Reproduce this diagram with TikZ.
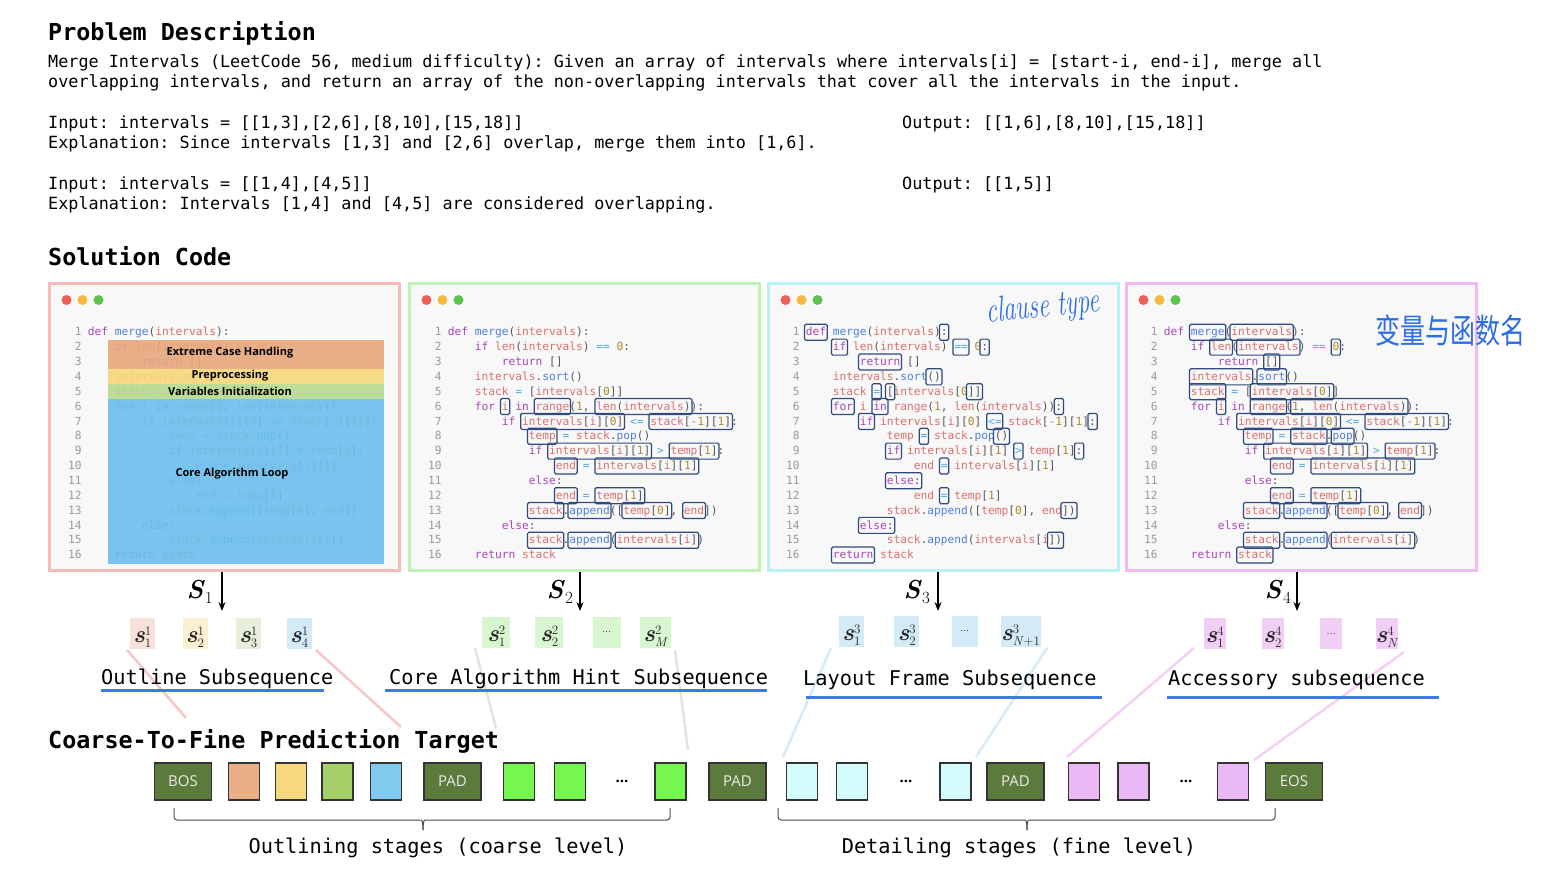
\documentclass[tikz,border=0pt]{standalone}
\usepackage{fontspec}
\usepackage{graphicx}
\setmonofont{DejaVu Sans Mono}
\newfontfamily\osans{Open Sans}
\newfontfamily\cjkhand{Noto Sans CJK SC}
\usetikzlibrary{arrows.meta}

\definecolor{ckwc}{HTML}{A846B9}
\definecolor{cfnc}{HTML}{4F7FE2}
\definecolor{cvrc}{HTML}{D9706D}
\definecolor{cnmc}{HTML}{B08A2A}
\definecolor{copc}{HTML}{4EA6DC}
\definecolor{cpun}{HTML}{555555}
\definecolor{clnum}{HTML}{9A9A9A}
\definecolor{boxc}{HTML}{2E4A7E}
\definecolor{panelbg}{HTML}{F8F8F8}
\definecolor{pred}{HTML}{F5BABA}
\definecolor{pgreen}{HTML}{BDF2B2}
\definecolor{pcyan}{HTML}{B8F2F2}
\definecolor{pmag}{HTML}{F2BAF2}
\definecolor{dotr}{HTML}{EC5F57}
\definecolor{doty}{HTML}{F5B840}
\definecolor{dotg}{HTML}{5EC34C}
\definecolor{bandO}{HTML}{E7A87C}
\definecolor{bandY}{HTML}{F7D77A}
\definecolor{bandG}{HTML}{B7DA8E}
\definecolor{bandB}{HTML}{6BBFEE}
\definecolor{hand}{HTML}{2C6CE8}
\definecolor{uline}{HTML}{3D7BE0}
\definecolor{tagg}{HTML}{5B7A3B}
\definecolor{tO}{HTML}{E9B087}
\definecolor{tY}{HTML}{F7D87C}
\definecolor{tG}{HTML}{A4CF69}
\definecolor{tB}{HTML}{82C9F0}
\definecolor{tLG}{HTML}{75F74F}
\definecolor{tC}{HTML}{D3FBFB}
\definecolor{tM}{HTML}{EAB9F5}
\definecolor{sA}{HTML}{F6E2D8}
\definecolor{sB}{HTML}{FCF0D2}
\definecolor{sC}{HTML}{E6EFD9}
\definecolor{sD}{HTML}{D4EAF8}
\definecolor{sE}{HTML}{D8F6CF}
\definecolor{sF}{HTML}{D3EBF7}
\definecolor{sG}{HTML}{F1CFF4}
\definecolor{fpink}{HTML}{F7C6C6}
\definecolor{fgray}{HTML}{E3E3E3}
\definecolor{fblue}{HTML}{D5ECF8}
\definecolor{fmag}{HTML}{F5D0F5}

\newcommand\ckw[1]{\textcolor{ckwc}{#1}}
\newcommand\cfn[1]{\textcolor{cfnc}{#1}}
\newcommand\cvr[1]{\textcolor{cvrc}{#1}}
\newcommand\cnm[1]{\textcolor{cnmc}{#1}}
\newcommand\cop[1]{\textcolor{copc}{#1}}
\newcommand\setcl[2]{\expandafter\def\csname clText#1\endcsname{#2}}
\setcl{1}{\ckw{def} \cfn{merge}(\cvr{intervals}):}
\setcl{2}{\ckw{if} \cvr{len}(\cvr{intervals}) \cop{==} \cnm{0}:}
\setcl{3}{\ckw{return} []}
\setcl{4}{\cvr{intervals}.\cfn{sort}()}
\setcl{5}{\cvr{stack} \cop{=} [\cvr{intervals}[\cnm{0}]]}
\setcl{6}{\ckw{for} \cvr{i} \ckw{in} \cvr{range}(\cnm{1}, \cvr{len}(\cvr{intervals})):}
\setcl{7}{\ckw{if} \cvr{intervals}[\cvr{i}][\cnm{0}] \cop{<=} \cvr{stack}[\cnm{-1}][\cnm{1}]:}
\setcl{8}{\cvr{temp} \cop{=} \cvr{stack}.\cfn{pop}()}
\setcl{9}{\ckw{if} \cvr{intervals}[\cvr{i}][\cnm{1}] \cop{>} \cvr{temp}[\cnm{1}]:}
\setcl{10}{\cvr{end} \cop{=} \cvr{intervals}[\cvr{i}][\cnm{1}]}
\setcl{11}{\ckw{else}:}
\setcl{12}{\cvr{end} \cop{=} \cvr{temp}[\cnm{1}]}
\setcl{13}{\cvr{stack}.\cfn{append}([\cvr{temp}[\cnm{0}], \cvr{end}])}
\setcl{14}{\ckw{else}:}
\setcl{15}{\cvr{stack}.\cfn{append}(\cvr{intervals}[\cvr{i}])}
\setcl{16}{\ckw{return} \cvr{stack}}

\newcommand\codefont{\ttfamily\fontsize{11.2}{13}\selectfont}
\newcommand\titlefont{\ttfamily\bfseries\fontsize{23.4}{26}\selectfont}
\newcommand\probfont{\ttfamily\fontsize{16.8}{20}\selectfont}
\newcommand\subfont{\ttfamily\fontsize{20.3}{24}\selectfont}
\newcommand\stk[2]{{\bfseries\itshape s}\rlap{\raisebox{7pt}{\fontsize{13}{13}\selectfont #1}}\raisebox{-5pt}{\fontsize{13}{13}\selectfont #2}}

\newcommand\drawcode[2]{%
  \foreach \n/\ind in {1/0,2/4,3/8,4/4,5/4,6/4,7/8,8/12,9/12,10/16,11/12,12/16,13/12,14/8,15/12,16/4}{%
    \node[codetxt] (#2c\n) at ({#1+\ind*6.75},{336+(\n-1)*14.85}) {\csname clText\n\endcsname};
    \node[lnum] (#2n\n) at ({#1-6},{336+(\n-1)*14.85}) {\n};
  }}
\newcommand\drawboxes[2]{%
  \foreach \l/\a/\b in {#2}{%
    \draw[tokbox] ({#1+\a*6.75-1.3},{332.3+(\l-1)*14.85-8}) rectangle ({#1+(\b+1)*6.75+1.3},{332.3+(\l-1)*14.85+8});
  }}

\begin{document}
\begin{tikzpicture}[x=1pt,y=-1pt,
  codetxt/.style={anchor=base west, inner sep=0, font=\codefont, text=cpun},
  lnum/.style={anchor=base east, inner sep=0, font=\codefont, text=clnum},
  tokbox/.style={draw=boxc, line width=1.2pt, rounded corners=1.5pt},
  panel/.style={draw=#1, line width=3pt, fill=panelbg, minimum width=350, minimum height=287, inner sep=0, anchor=north west},
  title/.style={anchor=base west, inner sep=0, font=\titlefont},
  prob/.style={anchor=base west, inner sep=0, font=\probfont},
  sublab/.style={anchor=base west, inner sep=0, font=\subfont},
  bandlab/.style={inner sep=0, font=\osans\bfseries\fontsize{11}{13}\selectfont},
  uln/.style={draw=uline, line width=3pt},
  slab/.style={anchor=base east, inner sep=0, font=\fontsize{26}{30}\selectfont},
  stok/.style={fill=#1, minimum height=31, inner sep=0, text=black!85, font=\fontsize{24}{26}\selectfont},
  stlab/.style={text height=21pt, text depth=3pt},
  arr/.style={-{Stealth[length=9pt,width=7pt]}, line width=1.3pt},
  faint/.style={draw=#1, line width=2.5pt},
  ptok/.style={draw=black!80, line width=1.3pt, fill=#1, minimum width=31, minimum height=37, inner sep=0},
  ptag/.style={draw=black!80, line width=1.3pt, fill=tagg, minimum width=57, minimum height=37, inner sep=0, text=white!92!black, font=\osans\fontsize{15}{17}\selectfont},
  pdots/.style={inner sep=0, font=\osans\bfseries\fontsize{15}{17}\selectfont},
  brc/.style={draw=black!70, line width=1pt, rounded corners=3pt},
  handw/.style={text=hand, inner sep=0}]
\useasboundingbox[fill=white] (0,0) rectangle (1547,890);

% ---------- Problem description ----------
\node[title] (t1) at (48,40.5) {Problem Description};
\node[prob] (d1) at (48,68) {Merge Intervals (LeetCode 56, medium difficulty): Given an array of intervals where intervals[i] = [start-i, end-i], merge all};
\node[prob] (d2) at (48,88) {overlapping intervals, and return an array of the non-overlapping intervals that cover all the intervals in the input.};
\node[prob] (d3) at (48,129) {Input: intervals = [[1,3],[2,6],[8,10],[15,18]]};
\node[prob] (d3o) at (902,129) {Output: [[1,6],[8,10],[15,18]]};
\node[prob] (d4) at (48,149) {Explanation: Since intervals [1,3] and [2,6] overlap, merge them into [1,6].};
\node[prob] (d5) at (48,190) {Input: intervals = [[1,4],[4,5]]};
\node[prob] (d5o) at (902,190) {Output: [[1,5]]};
\node[prob] (d6) at (48,210) {Explanation: Intervals [1,4] and [4,5] are considered overlapping.};

\node[title] (t2) at (48,265.5) {Solution Code};

% ---------- Panels ----------
\node[panel=pred] (p1) at (48,282) {};
\node[panel=pgreen] (p2) at (408,282) {};
\node[panel=pcyan] (p3) at (767,282) {};
\node[panel=pmag] (p4) at (1125,282) {};
\foreach \px in {48,408,767,1125}{
  \fill[dotr] (\px+18.5,300) circle (5pt);
  \fill[doty] (\px+34.5,300) circle (5pt);
  \fill[dotg] (\px+50.5,300) circle (5pt);
}

\drawcode{87.7}{a}
\drawcode{447.7}{b}
\drawcode{805.7}{c}
\drawcode{1163.7}{d}

% panel 1 bands
\fill[bandO, opacity=0.9] (108,340) rectangle (384,369);
\fill[bandY, opacity=0.9] (108,369) rectangle (384,384);
\fill[bandG, opacity=0.9] (108,384) rectangle (384,399);
\fill[bandB, opacity=0.9] (108,399) rectangle (384,564);
\node[bandlab] (b1) at (230,353) {Extreme Case Handling};
\node[bandlab] (b2) at (230,376) {Preprocessing};
\node[bandlab] (b3) at (230,391) {Variables Initialization};
\node[bandlab] (b4) at (232,474) {Core Algorithm Loop};

% token boxes
\drawboxes{447.7}{6/8/8, 6/13/17, 6/22/35, 7/11/25, 7/30/41, 8/12/15, 9/15/29, 9/33/39, 10/16/18, 10/22/36, 12/16/18, 12/22/28, 13/12/16, 13/18/23, 13/26/32, 13/35/37, 15/12/16, 15/18/23, 15/25/36}
\drawboxes{805.7}{1/0/2, 1/20/20, 2/4/5, 2/22/23, 2/26/26, 3/8/13, 4/18/19, 5/10/10, 5/12/12, 5/24/25, 6/4/6, 6/10/11, 6/37/37, 7/8/9, 7/27/28, 7/42/42, 8/17/17, 8/28/29, 9/12/13, 9/31/31, 9/40/40, 10/20/20, 11/12/16, 12/20/20, 13/38/39, 14/8/12, 15/36/37, 16/4/9}
\drawboxes{1163.7}{1/4/8, 1/10/18, 2/7/9, 2/11/19, 2/25/25, 3/15/16, 4/4/12, 4/14/17, 5/4/8, 5/13/24, 6/8/8, 6/13/17, 6/19/35, 7/11/25, 7/30/41, 8/12/15, 8/19/23, 8/25/27, 9/15/29, 9/33/39, 10/16/18, 10/22/36, 12/16/18, 12/22/28, 13/12/16, 13/18/23, 13/26/32, 13/35/37, 15/12/16, 15/18/23, 15/25/36, 16/11/15}

% handwriting
\node[handw, rotate=6, font=\itshape\fontsize{36}{40}\selectfont] (hw1) at (1043,308) {\scalebox{0.68}[1]{clause type}};
\node[handw, font=\cjkhand\fontsize{25}{28}\selectfont] (hw2) at (1450,331) {\scalebox{1}[1.35]{变量与函数名}};

% ---------- faint connectors ----------
\coordinate (f1a) at (127,650); \coordinate (f1b) at (186,718);
\coordinate (f2a) at (316,650); \coordinate (f2b) at (401,727);
\coordinate (f3a) at (475,648); \coordinate (f3b) at (496,728);
\coordinate (f4a) at (675,650); \coordinate (f4b) at (688,750);
\coordinate (f5a) at (831,648); \coordinate (f5b) at (783,757);
\coordinate (f6a) at (1047,648); \coordinate (f6b) at (976,757);
\coordinate (f7a) at (1194,648); \coordinate (f7b) at (1067,757);
\coordinate (f8a) at (1404,652); \coordinate (f8b) at (1254,760);
\draw[faint=fpink] (f1a) -- (f1b);
\draw[faint=fpink] (f2a) -- (f2b);
\draw[faint=fgray] (f3a) -- (f3b);
\draw[faint=fgray] (f4a) -- (f4b);
\draw[faint=fblue] (f5a) -- (f5b);
\draw[faint=fblue] (f6a) -- (f6b);
\draw[faint=fmag] (f7a) -- (f7b);
\draw[faint=fmag] (f8a) -- (f8b);

% ---------- arrows and S labels ----------
\coordinate (a1) at (222,611); \coordinate (a2) at (580,611);
\coordinate (a3) at (938,611); \coordinate (a4) at (1297,611);
\draw[arr] (p1.south -| a1) -- (a1);
\draw[arr] (p2.south -| a2) -- (a2);
\draw[arr] (p3.south -| a3) -- (a3);
\draw[arr] (p4.south -| a4) -- (a4);
\node[slab] (S1) at (213,598) {\textbf{\textit{S}}\raisebox{-5pt}{\fontsize{17}{17}\selectfont 1}};
\node[slab] (S2) at (573,598) {\textbf{\textit{S}}\raisebox{-5pt}{\fontsize{17}{17}\selectfont 2}};
\node[slab] (S3) at (930,598) {\textbf{\textit{S}}\raisebox{-5pt}{\fontsize{17}{17}\selectfont 3}};
\node[slab] (S4) at (1291,598) {\textbf{\textit{S}}\raisebox{-5pt}{\fontsize{17}{17}\selectfont 4}};

% ---------- subsequence tokens ----------
\node[stok=sA, stlab, minimum width=25] (s11) at (142.3,633.5) {\stk{1}{1}};
\node[stok=sB, stlab, minimum width=25] (s12) at (195,633.5) {\stk{1}{2}};
\node[stok=sC, stlab, minimum width=25] (s13) at (248.3,633.5) {\stk{1}{3}};
\node[stok=sD, stlab, minimum width=25] (s14) at (299.2,633.5) {\stk{1}{4}};
\node[stok=sE, stlab, minimum width=28] (s21) at (496.3,632.4) {\stk{2}{1}};
\node[stok=sE, stlab, minimum width=28] (s22) at (549.3,632.4) {\stk{2}{2}};
\node[stok=sE, minimum width=28, font=\fontsize{11}{11}\selectfont] (s2d) at (606.7,632.4) {...};
\node[stok=sE, stlab, minimum width=31] (s2M) at (655.5,632.4) {\stk{2}{\textit{M}}};
\node[stok=sF, stlab, minimum width=25] (s31) at (851.4,631.2) {\stk{3}{1}};
\node[stok=sF, stlab, minimum width=25] (s32) at (906.8,631.2) {\stk{3}{2}};
\node[stok=sF, minimum width=26, font=\fontsize{11}{11}\selectfont] (s3d) at (964.6,631.2) {...};
\node[stok=sF, stlab, minimum width=40] (s3N) at (1020.5,631.2) {\stk{3}{\textit{N}+1}};
\node[stok=sG, stlab, minimum width=22] (s41) at (1214.6,633.5) {\stk{4}{1}};
\node[stok=sG, stlab, minimum width=22] (s42) at (1272.5,633.5) {\stk{4}{2}};
\node[stok=sG, minimum width=22, font=\fontsize{11}{11}\selectfont] (s4d) at (1331,633.5) {...};
\node[stok=sG, stlab, minimum width=22] (s4N) at (1386.9,633.5) {\stk{4}{\textit{N}}};

% ---------- subsequence labels ----------
\node[sublab] (l1) at (101,684) {Outline Subsequence};
\node[sublab] (l2) at (389,684) {Core Algorithm Hint Subsequence};
\node[sublab] (l3) at (803,685) {Layout Frame Subsequence};
\node[sublab] (l4) at (1168,685) {Accessory subsequence};
\draw[uln] (101,690) -- (324,690);
\draw[uln] (385,690) -- (767,690);
\draw[uln] (806,697) -- (1102,697);
\draw[uln] (1167,697) -- (1439,697);

% ---------- prediction target ----------
\node[title] (t3) at (48,748.5) {Coarse-To-Fine Prediction Target};
\node[ptag] (bos) at (183,781.5) {BOS};
\node[ptok=tO] (o1) at (244,781.5) {};
\node[ptok=tY] (o2) at (291,781.5) {};
\node[ptok=tG] (o3) at (337.5,781.5) {};
\node[ptok=tB] (o4) at (386,781.5) {};
\node[ptag] (pad1) at (452.5,781.5) {PAD};
\node[ptok=tLG] (g1) at (519,781.5) {};
\node[ptok=tLG] (g2) at (570,781.5) {};
\node[pdots] (gd) at (622,781.5) {...};
\node[ptok=tLG] (g3) at (670.5,781.5) {};
\node[ptag] (pad2) at (737.5,781.5) {PAD};
\node[ptok=tC] (c1) at (802,781.5) {};
\node[ptok=tC] (c2) at (852,781.5) {};
\node[pdots] (cd) at (906,781.5) {...};
\node[ptok=tC] (c3) at (955.5,781.5) {};
\node[ptag] (pad3) at (1015.5,781.5) {PAD};
\node[ptok=tM] (m1) at (1084,781.5) {};
\node[ptok=tM] (m2) at (1133.5,781.5) {};
\node[pdots] (md) at (1186,781.5) {...};
\node[ptok=tM] (m3) at (1233,781.5) {};
\node[ptag] (eos) at (1294,781.5) {EOS};

% braces
\draw[brc] (174,808) |- (418,820) .. controls (422,820) and (423,822) .. (423,830);
\draw[brc] (670,808) |- (428,820) .. controls (424,820) and (423,822) .. (423,830);
\draw[brc] (778,808) |- (1022,820) .. controls (1026,820) and (1027,822) .. (1027,830);
\draw[brc] (1275,808) |- (1032,820) .. controls (1028,820) and (1027,822) .. (1027,830);
\node[sublab, anchor=base] (bl1) at (438,853) {Outlining stages (coarse level)};
\node[sublab, anchor=base] (bl2) at (1019,853) {Detailing stages (fine level)};
\end{tikzpicture}
\end{document}
